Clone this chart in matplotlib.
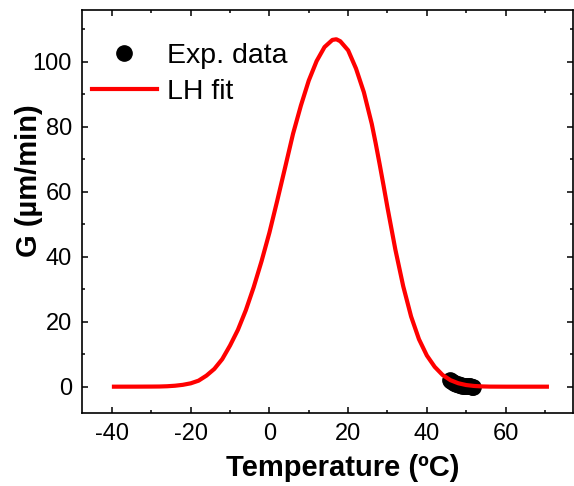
import matplotlib
matplotlib.use("Agg")
import matplotlib.pyplot as plt
from matplotlib.ticker import MultipleLocator

plt.rcParams["font.family"] = ["Liberation Sans", "DejaVu Sans"]
plt.rcParams["axes.unicode_minus"] = False

# LH fit curve
T_fit = [-39.5, -34, -30, -28, -26, -24, -22, -20, -18, -16, -14, -12, -10, -8, -6, -4, -2,
         0, 2, 4, 6, 8, 10, 12, 14, 16, 17, 18, 20, 22, 24, 26, 27, 28, 29, 30, 32, 34, 36, 38,
         40, 42, 44, 46, 48, 50, 52, 54, 56, 60, 70.5]
G_fit = [0.0, 0.01, 0.03, 0.05, 0.13, 0.29, 0.57, 1.03, 1.85, 3.4, 5.46, 8.45, 12.67, 17.5, 23.5, 30.6, 38.6,
         47.4, 57.3, 67.5, 77.8, 86.5, 94.2, 100.2, 104.5, 106.7, 106.9, 106.3, 103.5, 97.9, 90.6, 80.9, 74.9,
         68.5, 61.9, 55.1, 42.2, 30.9, 21.6, 14.6, 9.6, 6.1, 3.6, 2.0, 1.05, 0.5, 0.22, 0.08, 0.02, 0.0, 0.0]

# experimental growth rates
T_exp = [45.8, 46.2, 46.6, 47.0, 47.4, 47.8, 48.2, 48.6, 49.0, 49.4, 49.8, 50.2, 50.6, 51.0, 51.4, 51.8]
G_exp = [1.95, 1.65, 1.35, 1.15, 0.95, 0.75, 0.6, 0.45, 0.35, 0.3, 0.25, 0.2, 0.15, 0.1, 0.05, 0.0]

fig = plt.figure(figsize=(5.74, 4.86), dpi=100)
ax = fig.add_axes([0.1423, 0.1502, 0.8557, 0.8292])

ax.plot(T_exp, G_exp, "o", color="black", markersize=11, label="Exp. data", zorder=2)
ax.plot(T_fit, G_fit, "-", color="red", linewidth=3, label="LH fit", zorder=3)

ax.set_xlim(-47.7, 77.1)
ax.set_ylim(-8.1, 115.9)
ax.xaxis.set_major_locator(MultipleLocator(20))
ax.xaxis.set_minor_locator(MultipleLocator(10))
ax.yaxis.set_major_locator(MultipleLocator(20))
ax.yaxis.set_minor_locator(MultipleLocator(10))

ax.tick_params(which="both", direction="in", top=True, right=True, width=1.1, labelsize=17)
ax.tick_params(which="major", length=4.5, pad=7)
ax.tick_params(which="minor", length=2.4)
for s in ax.spines.values():
    s.set_linewidth(1.2)

ax.set_xlabel("Temperature (ºC)", fontsize=21, fontweight="bold")
ax.set_ylabel("G (µm/min)", fontsize=21, fontweight="bold")
ax.xaxis.set_label_coords(0.532, -0.102)
ax.yaxis.set_label_coords(-0.079, 0.576)

ax.legend(loc="upper left", bbox_to_anchor=(0.021, 0.918), frameon=False, fontsize=20.5,
          borderpad=0, borderaxespad=0, handlelength=2.28, handletextpad=0.35,
          labelspacing=0.35, numpoints=1)

fig.savefig("out.png", dpi=100)
